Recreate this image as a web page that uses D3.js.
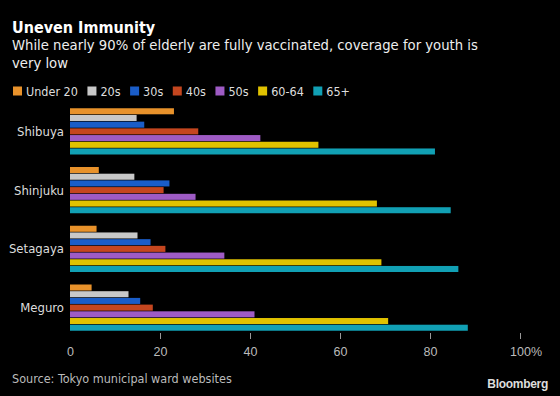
<!DOCTYPE html>
<html>
<head>
<meta charset="utf-8">
<script src="https://cdn.jsdelivr.net/npm/d3@7"></script>
<style>
  html, body { margin: 0; padding: 0; background: #000; }
  svg { display: block; font-family: 'DejaVu Sans Condensed', 'DejaVu Sans', sans-serif; font-stretch: condensed; }
</style>
</head>
<body>
<div id="chart"></div>
<script>
const wards = ['Shibuya', 'Shinjuku', 'Setagaya', 'Meguro'];
const groups = ['Under 20', '20s', '30s', '40s', '50s', '60-64', '65+'];
const colors = ['#e8922b', '#c8c8c8', '#1a5dc8', '#c4461f', '#9e5bc4', '#e0c200', '#11a0b4'];

// share fully vaccinated (%), one array per age group, in ward order
const under20 = [23.1, 6.4, 5.9, 4.8];
const twenties = [14.8, 14.3, 15.0, 13.0];
const thirties = [16.5, 22.1, 17.9, 15.6];
const forties = [28.5, 20.8, 21.2, 18.4];
const fifties = [42.3, 27.9, 34.3, 41.0];
const sixtyTo64 = [55.2, 68.2, 69.2, 70.7];
const over65 = [81.1, 84.6, 86.3, 88.4];
const series = [under20, twenties, thirties, forties, fifties, sixtyTo64, over65];

const xTicks = [0, 20, 40, 60, 80, 100];

const width = 560,
    height = 396;

const svg = d3.select('#chart').append('svg').attr('width', width).attr('height', height);
svg.append('rect').attr('width', width).attr('height', height).attr('fill', '#000');

// titles
svg.append('text')
    .attr('x', 12)
    .attr('y', 33)
    .attr('fill', '#fff')
    .style('font-size', '16px')
    .style('font-weight', 'bold')
    .text('Uneven Immunity');

const sub = svg.append('text').attr('fill', '#eee').style('font-size', '14.7px');
sub.append('tspan').attr('x', 12).attr('y', 50).text('While nearly 90% of elderly are fully vaccinated, coverage for youth is');
sub.append('tspan').attr('x', 12).attr('y', 68).text('very low');

// legend
const legend = svg.append('g').attr('transform', 'translate(13, 86.5)');
let lx = 0;
groups.forEach((g, i) => {
    const item = legend.append('g').attr('transform', `translate(${lx}, 0)`);
    item.append('rect').attr('width', 9).attr('height', 9).attr('fill', colors[i]);
    const t = item
        .append('text')
        .attr('x', 13)
        .attr('y', 9)
        .attr('fill', '#ddd')
        .style('font-size', '12.5px')
        .text(g);
    lx += 13 + t.node().getComputedTextLength() + 9.5;
});

// scales
const x = d3.scaleLinear().domain([0, 100]).range([70, 520]);
const y = d3.scaleBand().domain(wards).range([102, 337]).paddingInner(0.19).paddingOuter(0.095);
const yInner = d3.scaleBand().domain(groups).range([0, y.bandwidth()]).padding(0.1);

const rows = [];
wards.forEach((w, wi) => {
    groups.forEach((g, gi) => {
        rows.push({ ward: w, group: g, color: colors[gi], value: series[gi][wi] });
    });
});

svg.append('g')
    .selectAll('rect')
    .data(rows)
    .enter()
    .append('rect')
    .attr('x', x(0))
    .attr('y', (d) => y(d.ward) + yInner(d.group))
    .attr('width', (d) => x(d.value) - x(0))
    .attr('height', yInner.bandwidth())
    .attr('fill', (d) => d.color);

// ward labels
svg.append('g')
    .selectAll('text')
    .data(wards)
    .enter()
    .append('text')
    .attr('x', 64)
    .attr('y', (d) => y(d) + y.bandwidth() / 2)
    .attr('dy', '0.35em')
    .attr('text-anchor', 'end')
    .attr('fill', '#ddd')
    .style('font-size', '13px')
    .text((d) => d);

// x axis
const axis = svg
    .append('g')
    .attr('transform', 'translate(0, 333)')
    .call(d3.axisBottom(x).tickValues(xTicks).tickSize(6).tickPadding(8).tickFormat(d3.format('d')));
axis.select('.domain').remove();
axis.selectAll('.tick line').attr('stroke', '#999').filter((d) => d === 0).remove();
axis.selectAll('.tick text').attr('fill', '#bbb').style('font-size', '12.5px').style('font-family', null);
axis.selectAll('.tick text')
    .filter((d) => d === 100)
    .each(function () {
        const w = this.getComputedTextLength();
        d3.select(this).attr('text-anchor', 'start').attr('x', -w / 2).append('tspan').text('%');
    });

// footer
svg.append('text')
    .attr('x', 12)
    .attr('y', 383)
    .attr('fill', '#bbb')
    .style('font-size', '12.5px')
    .text('Source: Tokyo municipal ward websites');

svg.append('text')
    .attr('x', 548)
    .attr('y', 388)
    .attr('text-anchor', 'end')
    .attr('fill', '#ddd')
    .style('font-size', '12px')
    .style('font-weight', 'bold')
    .style('font-family', 'Liberation Sans, Arial, sans-serif')
    .style('letter-spacing', '-0.3px')
    .text('Bloomberg');
</script>
</body>
</html>
